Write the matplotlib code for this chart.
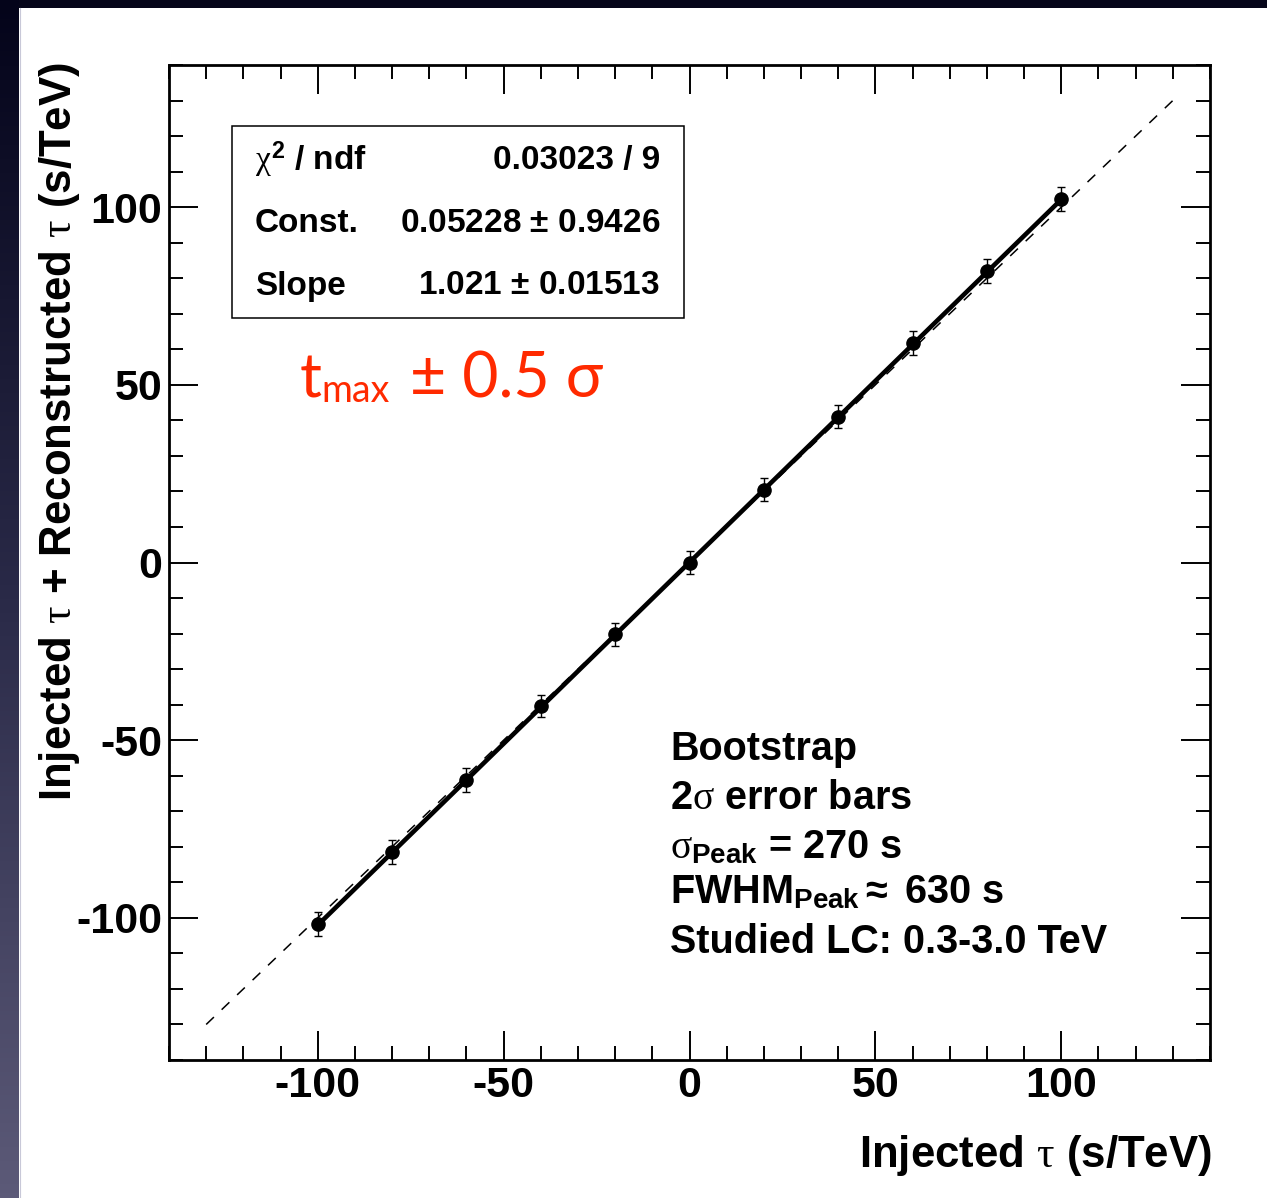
import matplotlib
matplotlib.use("Agg")
import matplotlib.pyplot as plt
from matplotlib.ticker import MultipleLocator
from matplotlib.patches import Rectangle
from matplotlib.colors import LinearSegmentedColormap
import numpy as np

# ROOT-like look: Helvetica bold text, Symbol-font greek letters
plt.rcParams['font.family'] = ['Liberation Sans', 'DejaVu Sans']
plt.rcParams['font.weight'] = 'bold'
plt.rcParams['axes.unicode_minus'] = False
plt.rcParams['mathtext.fontset'] = 'custom'
plt.rcParams['mathtext.rm'] = 'Liberation Sans:weight=bold'
plt.rcParams['mathtext.bf'] = 'Liberation Sans:weight=bold'
plt.rcParams['mathtext.it'] = 'Liberation Serif:weight=normal'
plt.rcParams['mathtext.default'] = 'it'

# data
injected = [-100, -80, -60, -40, -20, 0, 20, 40, 60, 80, 100]
reconstructed = [-101.7, -81.5, -61.2, -40.4, -20.2, 0.0, 20.5, 41.0, 61.8, 82.0, 102.2]
errors = [3.4, 3.3, 3.3, 3.2, 3.2, 3.2, 3.2, 3.2, 3.3, 3.3, 3.4]

# fit results (stats box)
chi2, ndf = 0.03023, 9
const, const_err = 0.05228, 0.9426
slope, slope_err = 1.021, 0.01513

# identity reference line
diag = [-130, 130]

W, H = 1267, 1198
fig = plt.figure(figsize=(W / 100, H / 100), dpi=100)
fig.patch.set_facecolor('white')

# slide frame: dark bar on top, gradient bar on the left
top = fig.add_axes([0, 1 - 8 / H, 1, 8 / H])
top.axis('off')
top.add_patch(Rectangle((0, 0), 1, 1, transform=top.transAxes, color='#06061a'))
left = fig.add_axes([0, 0, 19 / W, 1])
grad = np.linspace(0, 1, 256).reshape(-1, 1)
cmap = LinearSegmentedColormap.from_list('frame', ['#04041a', '#2a2a48', '#5c5a78'])
left.imshow(grad, aspect='auto', cmap=cmap, extent=[0, 1, 0, 1])
left.axis('off')
fig.add_artist(plt.Line2D([19.5 / W, 19.5 / W], [0, 1 - 8 / H], color='#c8c8d8', lw=0.8))

ax = fig.add_axes([169 / W, 138 / H, 1041 / W, 995 / H])
ax.set_xlim(-140, 140)
ax.set_ylim(-140, 140)

x = np.array(injected)
y = np.array(reconstructed)

ax.plot(diag, diag, color='black', lw=1.1, dashes=(7, 7), zorder=2)
xfit = np.array([x.min(), x.max()])
ax.plot(xfit, const + slope * xfit, color='black', lw=3.3, zorder=3)
ax.errorbar(x, y, yerr=errors, fmt='o', color='black', ms=9.5,
            elinewidth=1.0, capsize=2.8, capthick=1.0, zorder=4)

ax.xaxis.set_major_locator(MultipleLocator(50))
ax.xaxis.set_minor_locator(MultipleLocator(10))
ax.yaxis.set_major_locator(MultipleLocator(50))
ax.yaxis.set_minor_locator(MultipleLocator(10))
ax.tick_params(which='both', direction='in', top=True, right=True, width=1.4)
ax.tick_params(which='major', length=21)
ax.tick_params(which='minor', length=10)
ax.tick_params(axis='x', labelsize=31, pad=4)
ax.tick_params(axis='y', labelsize=31, pad=5)
for sp in ax.spines.values():
    sp.set_linewidth(2.0)

ax.set_xlabel(r'Injected $\tau$ (s/TeV)', fontsize=31.5, fontweight='bold', loc='right')
ax.xaxis.label.set_va('center')
ax.xaxis.set_label_coords(1.002, -0.0955)
ax.set_ylabel(r'Injected $\tau$ + Reconstructed $\tau$ (s/TeV)', fontsize=31.5,
              fontweight='bold', loc='top')
ax.yaxis.label.set_va('center')
ax.yaxis.set_label_coords(-0.105, 1.003)

# stats box
bx0, bx1 = (232 - 169) / 1041, (684 - 169) / 1041
by0, by1 = (1060 - 318) / 995, (1060 - 126) / 995
ax.add_patch(Rectangle((bx0, by0), bx1 - bx0, by1 - by0, transform=ax.transAxes,
                       fill=True, facecolor='white', edgecolor='black', lw=1.1, zorder=5))
rows = [
    (r'$\chi^{\mathrm{2}}$ / ndf', f'{chi2:.5f} / {ndf}'),
    ('Const.', f'{const:.5f} $\\pm$ {const_err:.4f}'),
    ('Slope', f'{slope:.3f} $\\pm$ {slope_err:.5f}'),
]
row_y = [(1060 - 160) / 995, (1060 - 223) / 995, (1060 - 286) / 995]
for (lab, val), ry in zip(rows, row_y):
    ax.text((255 - 169) / 1041, ry, lab, transform=ax.transAxes, fontsize=24,
            ha='left', va='center', zorder=6)
    ax.text((660 - 169) / 1041, ry, val, transform=ax.transAxes, fontsize=24,
            ha='right', va='center', zorder=6)

# info text
info = [
    'Bootstrap',
    r'2$\sigma$ error bars',
    r'$\sigma_{\mathrm{Peak}}$ = 270 s',
    r'FWHM$_{\mathrm{Peak}}\approx$ 630 s',
    'Studied LC: 0.3-3.0 TeV',
]
info_base = [760, 809, 858, 903, 953]
for txt, yb in zip(info, info_base):
    ax.text((670 - 169) / 1041, (1060 - yb) / 995, txt, transform=ax.transAxes,
            fontsize=28.5, ha='left', va='baseline')

# red annotation
red = '#ff2a00'
fam = ['Lato', 'DejaVu Sans']
fig.text(300 / W, 1 - 397 / H, 't', color=red, fontsize=44, family=fam,
         fontweight='normal', va='baseline')
fig.text(321 / W, 1 - 402 / H, 'max', color=red, fontsize=27, family=fam,
         fontweight='normal', va='baseline')
fig.text(410 / W, 1 - 397 / H, '\u00b1 0.5 \u03c3', color=red, fontsize=45, family=fam,
         fontweight='normal', va='baseline')

fig.savefig('out.png', dpi=100, facecolor='white')
